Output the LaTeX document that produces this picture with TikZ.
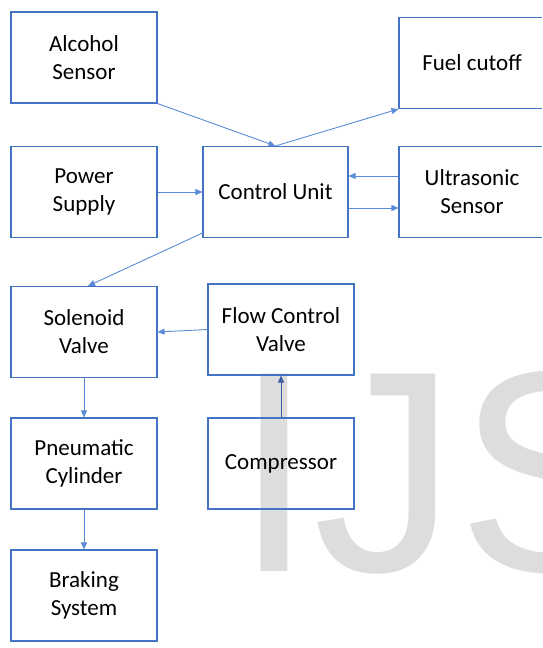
\documentclass[tikz,border=0pt]{standalone}
\usepackage{fontspec}
\setmainfont{Carlito}
\newfontfamily\wmfont{Liberation Sans}
\usetikzlibrary{arrows.meta}
\definecolor{boxblue}{HTML}{4472C4}
\definecolor{linkblue}{HTML}{5B8BD6}
\definecolor{darklink}{HTML}{3A5DA6}
\definecolor{wmgray}{HTML}{DDDDDD}
\begin{document}
\begin{tikzpicture}[x=1pt, y=-1pt,
  box/.style={draw=boxblue, line width=1.1pt, minimum width=146pt, minimum height=91pt,
    align=center, inner sep=0pt, text=black, font=\fontsize{23}{28}\selectfont},
  link/.style={draw=linkblue, line width=0.9pt, -{Triangle[length=7pt,width=6pt]}},
  wm/.style={anchor=base west, inner sep=0pt, text=wmgray, font=\wmfont\fontsize{287}{287}\selectfont}]
  \clip (0,0) rectangle (542,648);
  % watermark
  \node[wm] (wmark) at (234,571) {IJS};
  % top rows
  \node[box] (alcohol) at (84,57.5) {Alcohol\\Sensor};
  \node[box] (fuel) at (472,63) {Fuel cutoff};
  \node[box] (power) at (84,192) {Power\\Supply};
  \node[box, minimum width=145pt] (control) at (275.5,192) {Control Unit};
  \node[box] (ultra) at (472,192) {Ultrasonic\\Sensor};
  % lower rows
  \node[box] (solenoid) at (84,332) {Solenoid\\Valve};
  \node[box] (flow) at (281,329.5) {Flow Control\\Valve};
  \node[box] (pneu) at (84,463.5) {Pneumatic\\Cylinder};
  \node[box] (comp) at (281,463.5) {Compressor};
  \node[box] (brake) at (84,595.5) {Braking\\System};
  % links
  \draw[link] (alcohol.south east) -- (control.north);
  \draw[link] (control.north) -- (fuel.south west);
  \draw[link] (power) -- (control);
  \draw[link] ([yshift=16pt]ultra.west) -- ([yshift=16pt]control.east);
  \draw[link] ([yshift=-16pt]control.east) -- ([yshift=-16pt]ultra.west);
  \draw[link] ([yshift=5pt]control.south west) -- ([xshift=4pt]solenoid.north);
  \draw[link] (flow.west) -- (solenoid.east);
  \draw[link] (solenoid) -- (pneu);
  \draw[link] (pneu) -- (brake);
  \draw[link, draw=darklink] (comp) -- (flow);
\end{tikzpicture}
\end{document}
